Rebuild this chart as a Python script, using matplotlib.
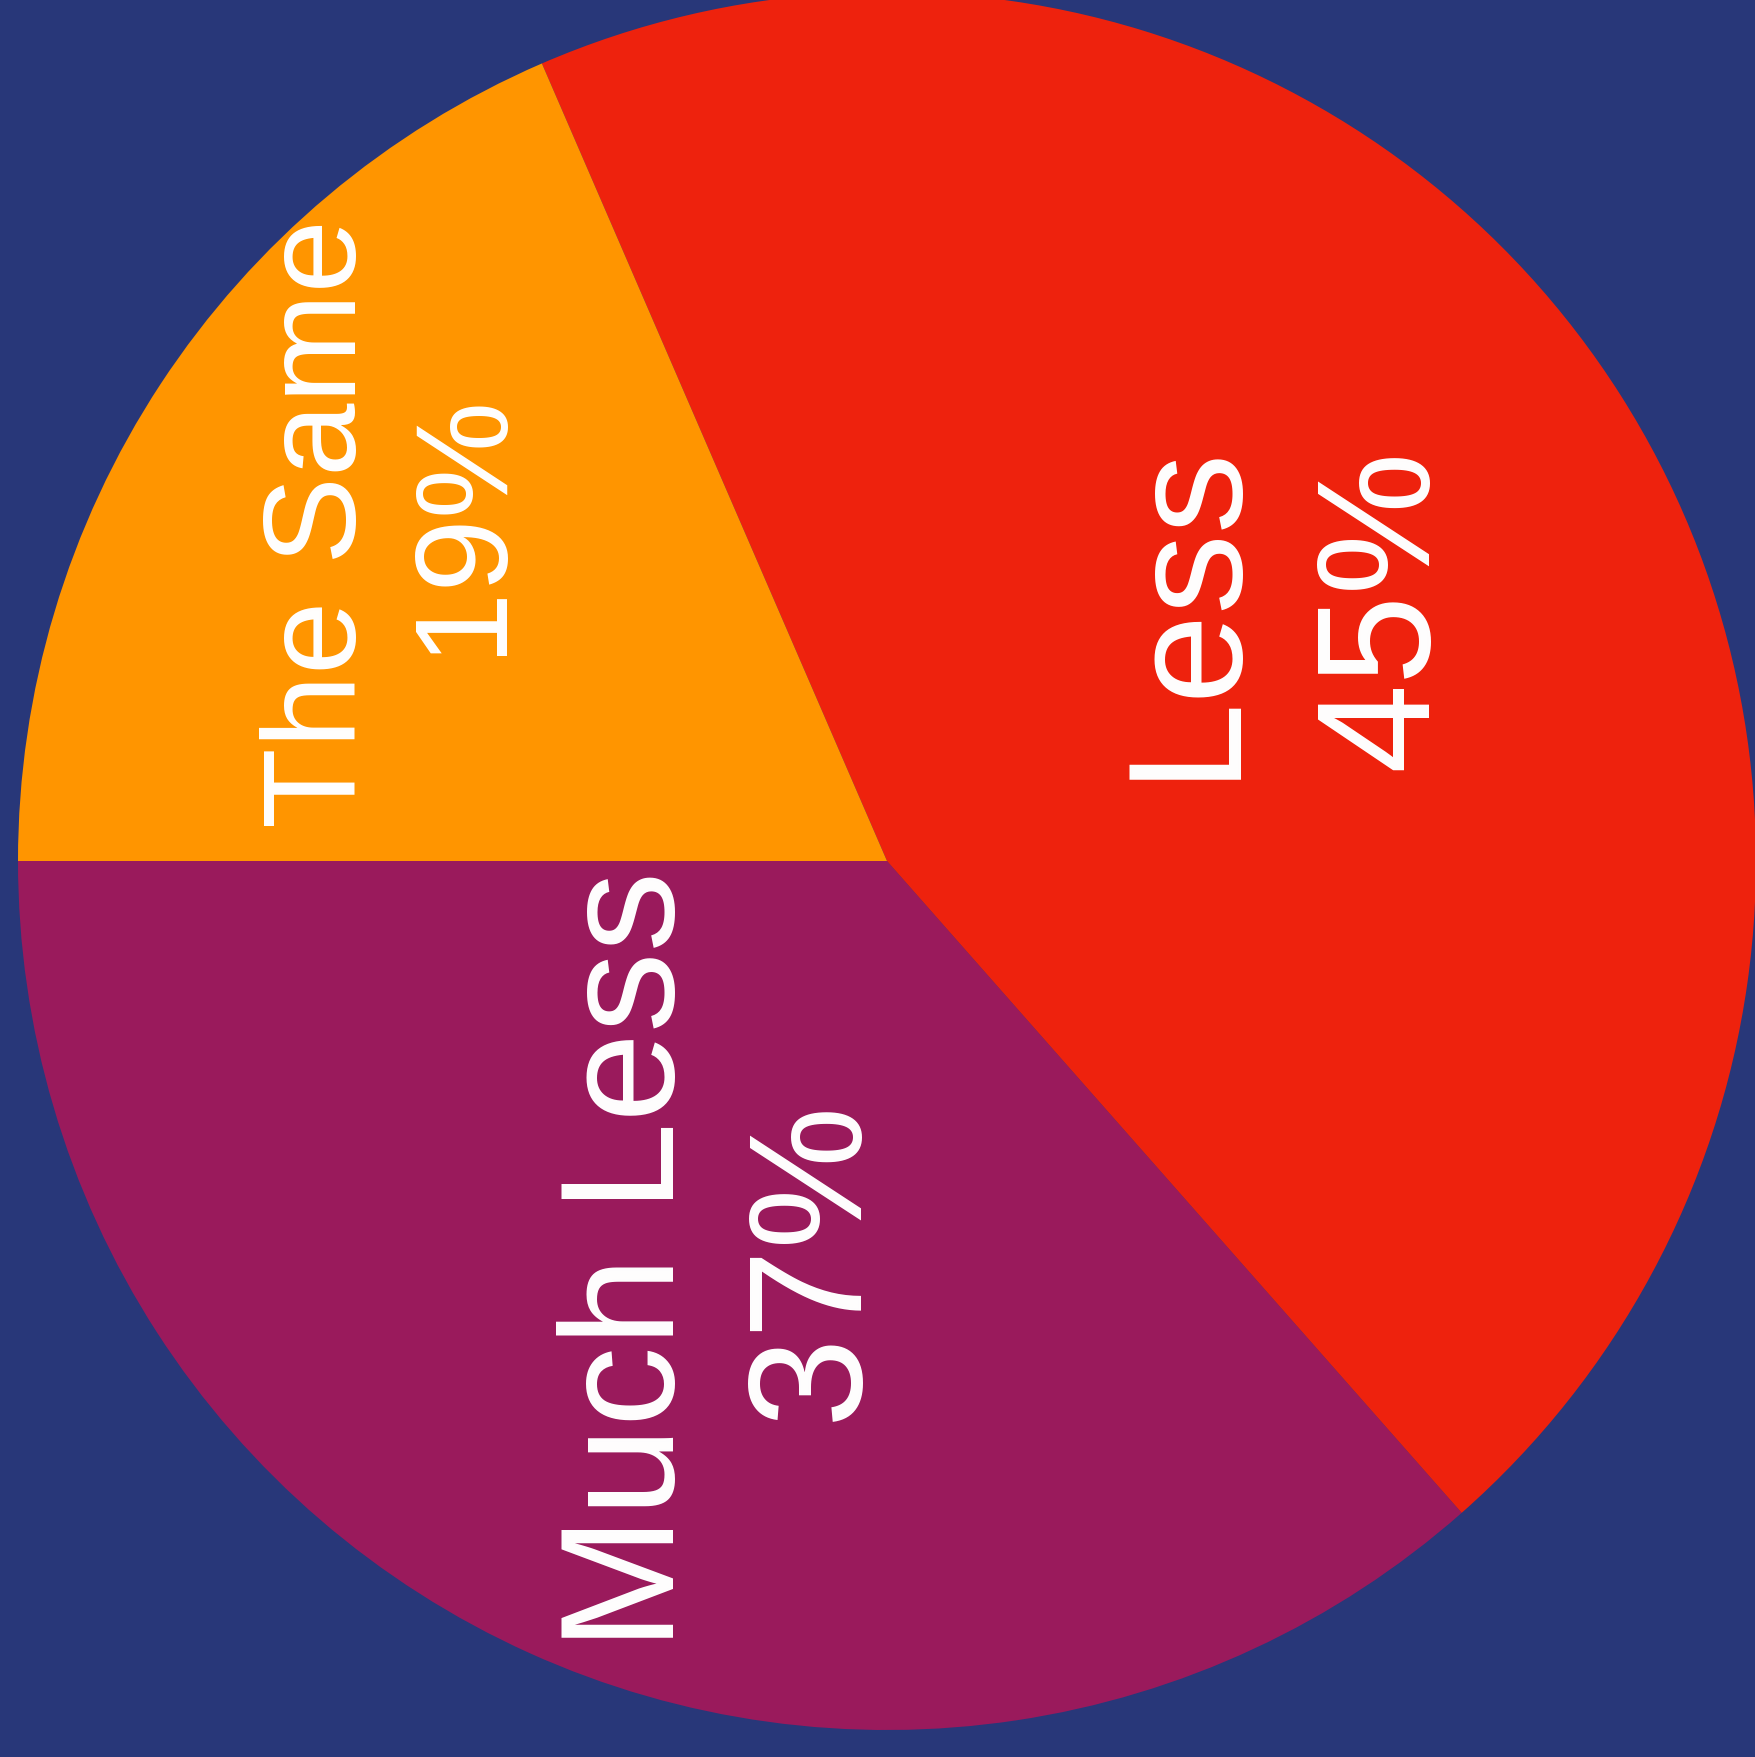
import numpy as np
import matplotlib
matplotlib.use("Agg")
import matplotlib.pyplot as plt

categories = ["Much Less", "Less", "The Same"]
shares = [36.5, 45.0, 18.5]
percent_labels = ["37%", "45%", "19%"]
colors = ["#9A1A5C", "#EE220D", "#FF9500"]
label_radius = [0.4961, 0.5435, 0.6894]
label_angle_shift = [2.03, -0.10, -1.02]
label_gap = [0.209, 0.227, 0.1638]
label_sizes = [116, 116, 95]

BG = "#283779"
W, H = 1756, 1757
fig = plt.figure(figsize=(W / 100, H / 100), dpi=100, facecolor=BG)
cx, cy, r = 887, H - 861, 869
ax = fig.add_axes([(cx - r) / W, (cy - r) / H, 2 * r / W, 2 * r / H])
ax.set_facecolor(BG)
wedges, _ = ax.pie(shares, colors=colors, startangle=180, counterclock=True,
                   radius=1.0, wedgeprops=dict(linewidth=0))
ax.set_xlim(-1, 1)
ax.set_ylim(-1, 1)
ax.set_aspect("equal")
ax.axis("off")

for w, cat, pl, rr, da, g, fs in zip(wedges, categories, percent_labels,
                                     label_radius, label_angle_shift, label_gap,
                                     label_sizes):
    mid = np.deg2rad((w.theta1 + w.theta2) / 2 + da)
    x0, y0 = rr * np.cos(mid), rr * np.sin(mid)
    for txt, dx in ((cat, -g / 2), (pl, g / 2)):
        ax.text(x0 + dx, y0, txt, rotation=90, ha="center", va="center",
                color="white", fontsize=fs, family="Liberation Sans")

fig.savefig("out.png", dpi=100, facecolor=BG)
